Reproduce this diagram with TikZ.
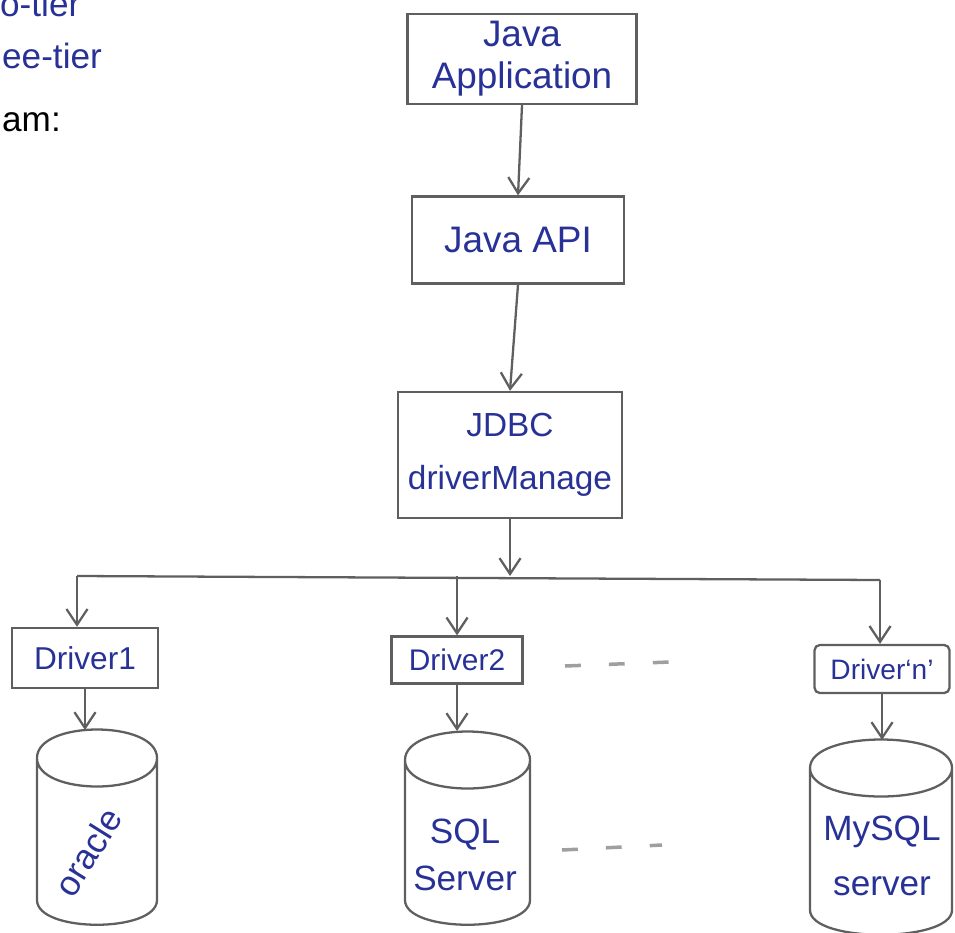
\documentclass[tikz,border=0pt]{standalone}
\usepackage{fontspec}
\setmainfont{Liberation Sans}
\usetikzlibrary{arrows.meta}
\definecolor{ink}{RGB}{40,50,150}
\definecolor{pencil}{RGB}{95,95,95}
\tikzset{
  box/.style={draw=pencil, line width=1.3pt, text=ink, align=center, inner sep=2pt,
    font=\fontsize{21}{24}\selectfont},
  arr/.style={draw=pencil, line width=1.3pt, -{Straight Barb[length=9pt,width=12pt]}},
  hand/.style={text=ink, font=\fontsize{20}{24}\selectfont},
  gap/.style={draw=pencil!60, line width=2pt, dash pattern=on 9pt off 16pt}
}
\begin{document}
\begin{tikzpicture}[x=0.02cm, y=-0.02cm]
  \useasboundingbox (0,0) rectangle (955,932);

  % Textreste links oben
  \node[hand, anchor=west] (tier2) at (-6,4) {o-tier};
  \node[hand, anchor=west] (tier3) at (-4,56) {ee-tier};
  \node[hand, text=black, anchor=west] (diag) at (-4,122) {am:};

  % Schichten
  \node[box, minimum width=4.58cm, minimum height=1.8cm] (japp) at (522,59) {Java\\Application};
  \node[box, minimum width=4.24cm, minimum height=1.74cm] (japi) at (518,240) {Java API};
  \node[box, minimum width=4.48cm, minimum height=2.52cm, font=\fontsize{19}{30}\selectfont]
    (jdbc) at (510,455) {JDBC\\driverManage};
  \draw[arr] (japp.south) -- (japi.north);
  \draw[arr] (japi.south) -- (jdbc.north);

  % Verteilung auf die Treiber
  \coordinate (busL) at (77,576);
  \coordinate (busR) at (880,580);
  \draw[pencil, line width=1.3pt] (busL) -- (busR);
  \draw[arr] (jdbc.south) -- (jdbc.south |- busL);

  % Treiber
  \node[box, minimum width=2.92cm, minimum height=1.2cm, font=\fontsize{18}{20}\selectfont]
    (drv1) at (85,658) {Driver1};
  \node[box, minimum width=2.62cm, minimum height=0.94cm, font=\fontsize{17}{20}\selectfont]
    (drv2) at (457,660) {Driver2};
  \node[box, minimum width=2.7cm, minimum height=0.96cm, rounded corners=3pt,
    font=\fontsize{16}{20}\selectfont] (drvn) at (882,669) {Driver`n'};
  \draw[arr] (busL) -- (busL |- drv1.north);
  \draw[arr] (drv2.north |- busL) -- (drv2.north);
  \draw[arr] (busR) -- (busR |- drvn.north);
  \draw[gap] (565,666) -- (670,662);

  % Datenbanken (links/rechts/Deckel/Boden)
  \foreach \l/\r/\t/\b in {37/157/758/900, 405/530/760/900, 810/952/768/910} {
    \draw[pencil, line width=1.3pt]
      (\l,\t) .. controls (\l,\t-38) and (\r,\t-38) .. (\r,\t)
              .. controls (\r,\t+38) and (\l,\t+38) .. (\l,\t)
      -- (\l,\b) .. controls (\l,\b+33) and (\r,\b+33) .. (\r,\b) -- (\r,\t);
  }
  \coordinate (oraTop) at (85,730);
  \coordinate (sqlTop) at (455,731);
  \coordinate (mysTop) at (880,740);
  \node[hand, rotate=58] (ora) at (88,852) {oracle};
  \node[hand, align=center, font=\fontsize{20}{27}\selectfont] (sql) at (465,855) {SQL\\Server};
  \node[hand, align=center, font=\fontsize{20}{31}\selectfont] (mys) at (882,856) {MySQL\\server};
  \draw[arr] (drv1.south) -- (drv1.south |- oraTop);
  \draw[arr] (drv2.south) -- (drv2.south |- sqlTop);
  \draw[arr] (drvn.south) -- (drvn.south |- mysTop);
  \draw[gap] (562,850) -- (662,845);
\end{tikzpicture}
\end{document}
